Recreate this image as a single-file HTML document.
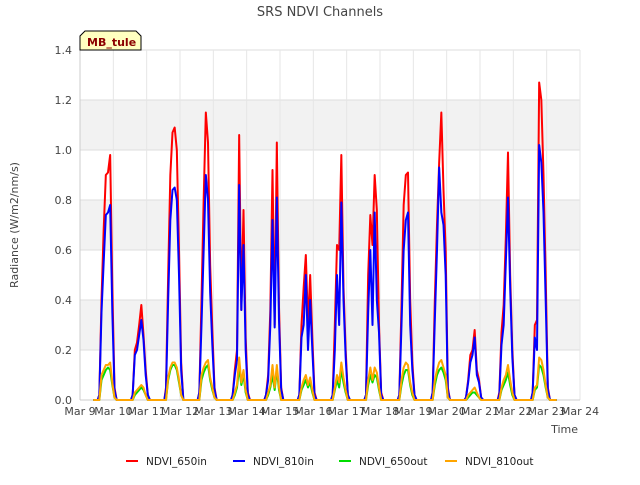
<!DOCTYPE html>
<html><head><meta charset="utf-8"><style>
body{margin:0;background:#fff;font-family:"Liberation Sans","DejaVu Sans",sans-serif;}
svg text{font-family:"DejaVu Sans","Liberation Sans",sans-serif;}
</style></head><body>
<svg id="chart" width="640" height="480" xmlns="http://www.w3.org/2000/svg">
<rect x="0" y="0" width="640" height="480" fill="#fff"/>
<g id="bands"></g><g id="grid"></g>
<line x1="80" y1="50" x2="80" y2="400" stroke="#ccc"/>
<line x1="80" y1="400" x2="580" y2="400" stroke="#ccc"/>
<g id="series"></g><g id="ticks"></g>
<text x="320" y="16" text-anchor="middle" font-size="13" fill="#444">SRS NDVI Channels</text>
<text x="18" y="225" text-anchor="middle" font-size="11" fill="#444" transform="rotate(-90 18 225)">Radiance (W/m2/nm/s)</text>
<text x="578" y="433" text-anchor="end" font-size="11" fill="#444">Time</text>
<g>
<path d="M80,50 L80,36 L85,31 L136,31 L141,36 L141,50 Z" fill="#ffffc0" stroke="#000"/>
<text x="87" y="46" font-size="11" font-weight="bold" fill="#8b0000">MB_tule</text>
</g>
<g id="legend"></g>
</svg>
<script>
const dayStarts=[9,10,11,12,13,14,15,16,17,18,19,20,21,22];
const in650=[[0.02,0.4,0.68,0.9,0.91,0.98,0.45,0.05,0,0],[0.02,0.2,0.23,0.3,0.38,0.26,0.12,0.02,0,0],[0.05,0.5,0.9,1.07,1.09,1.0,0.6,0.15,0,0],[0.03,0.4,0.8,1.15,1.03,0.54,0.28,0.05,0,0],[0.02,0.12,0.2,1.06,0.36,0.76,0.25,0.03,0,0],[0.02,0.1,0.36,0.92,0.3,1.03,0.37,0.05,0,0],[0.02,0.3,0.45,0.58,0.3,0.5,0.25,0.03,0,0],[0.02,0.3,0.62,0.6,0.98,0.45,0.2,0.02,0,0],[0.02,0.5,0.74,0.62,0.9,0.76,0.3,0.03,0,0],[0.02,0.38,0.78,0.9,0.91,0.4,0.15,0.02,0,0],[0.03,0.4,0.7,0.95,1.15,0.84,0.6,0.05,0,0],[0.01,0.08,0.18,0.2,0.28,0.12,0.08,0.01,0,0],[0.03,0.27,0.38,0.65,0.99,0.5,0.2,0.02,0,0],[0.03,0.3,0.32,1.27,1.2,0.9,0.5,0.05,0,0]];
const in810=[[0.02,0.35,0.55,0.74,0.75,0.78,0.35,0.04,0,0],[0.02,0.18,0.2,0.26,0.32,0.24,0.1,0.02,0,0],[0.04,0.4,0.72,0.84,0.85,0.8,0.5,0.12,0,0],[0.03,0.3,0.6,0.9,0.8,0.43,0.22,0.04,0,0],[0.02,0.1,0.16,0.86,0.36,0.62,0.2,0.02,0,0],[0.02,0.08,0.3,0.72,0.29,0.81,0.32,0.04,0,0],[0.02,0.25,0.3,0.5,0.2,0.4,0.2,0.02,0,0],[0.02,0.2,0.5,0.3,0.79,0.4,0.17,0.02,0,0],[0.02,0.35,0.6,0.3,0.75,0.4,0.27,0.02,0,0],[0.02,0.3,0.6,0.72,0.75,0.3,0.12,0.02,0,0],[0.03,0.32,0.6,0.93,0.75,0.7,0.5,0.04,0,0],[0.01,0.07,0.15,0.18,0.25,0.1,0.07,0.01,0,0],[0.02,0.22,0.3,0.55,0.81,0.45,0.17,0.02,0,0],[0.03,0.25,0.2,1.02,0.95,0.75,0.4,0.04,0,0]];
const out650=[[0,0.08,0.1,0.12,0.13,0.12,0.06,0.01,0,0],[0,0.02,0.03,0.04,0.05,0.04,0.02,0,0,0],[0,0.08,0.12,0.14,0.14,0.12,0.07,0.02,0,0],[0,0.08,0.11,0.13,0.14,0.08,0.04,0.01,0,0],[0,0.02,0.05,0.13,0.06,0.1,0.03,0,0,0],[0,0.02,0.05,0.1,0.04,0.12,0.04,0,0,0],[0,0.04,0.06,0.08,0.05,0.07,0.03,0,0,0],[0,0.04,0.08,0.05,0.12,0.07,0.03,0,0,0],[0,0.06,0.1,0.07,0.1,0.09,0.04,0,0,0],[0,0.06,0.1,0.12,0.12,0.06,0.02,0,0,0],[0,0.06,0.1,0.12,0.13,0.11,0.08,0.01,0,0],[0,0.01,0.02,0.03,0.03,0.02,0.01,0,0,0],[0,0.04,0.06,0.08,0.11,0.06,0.02,0,0,0],[0,0.04,0.05,0.14,0.13,0.1,0.05,0.01,0,0]];
const out810=[[0,0.1,0.12,0.14,0.14,0.15,0.07,0.01,0,0],[0,0.03,0.04,0.05,0.06,0.05,0.02,0,0,0],[0,0.09,0.13,0.15,0.15,0.13,0.08,0.02,0,0],[0,0.1,0.13,0.15,0.16,0.09,0.05,0.01,0,0],[0,0.03,0.06,0.17,0.07,0.12,0.04,0,0,0],[0,0.03,0.06,0.14,0.05,0.14,0.05,0,0,0],[0,0.05,0.08,0.1,0.06,0.09,0.04,0,0,0],[0,0.05,0.1,0.07,0.15,0.09,0.04,0,0,0],[0,0.08,0.13,0.08,0.13,0.11,0.05,0,0,0],[0,0.08,0.13,0.15,0.14,0.07,0.03,0,0,0],[0,0.08,0.12,0.15,0.16,0.13,0.1,0.01,0,0],[0,0.02,0.03,0.04,0.05,0.03,0.01,0,0,0],[0,0.05,0.08,0.1,0.14,0.08,0.03,0,0,0],[0,0.05,0.06,0.17,0.16,0.12,0.06,0.01,0,0]];
const xTickLabels=["Mar 9","Mar 10","Mar 11","Mar 12","Mar 13","Mar 14","Mar 15","Mar 16","Mar 17","Mar 18","Mar 19","Mar 20","Mar 21","Mar 22","Mar 23","Mar 24"];
const yTicks=[0,0.2,0.4,0.6,0.8,1.0,1.2,1.4];
const seriesNames=["NDVI_650in","NDVI_810in","NDVI_650out","NDVI_810out"];
const seriesColors=["#ff0000","#0000ff","#00dd00","#ffa500"];
const NS="http://www.w3.org/2000/svg";
const xs=d=>80+(d-9)*500/15, ys=v=>400-v*250;
function mk(tag,attrs,parent){const e=document.createElementNS(NS,tag);for(const k in attrs)e.setAttribute(k,attrs[k]);parent.appendChild(e);return e;}
const bands=document.getElementById('bands'),grid=document.getElementById('grid'),ticks=document.getElementById('ticks');
[[0.2,0.4],[0.6,0.8],[1.0,1.2]].forEach(b=>{const r=mk('rect',{x:80,y:ys(b[1]),width:500,height:ys(b[0])-ys(b[1]),fill:'#f2f2f2'},bands);

});
yTicks.forEach(v=>{const l=mk('line',{x1:80,x2:580,y1:ys(v),y2:ys(v),stroke:'#ddd'},grid);


const t=mk('text',{x:72,y:ys(v)+4,'text-anchor':'end','font-size':11,fill:'#444'},ticks);t.textContent=v.toFixed(1);

});
xTickLabels.forEach((s,i)=>{const l=mk('line',{x1:xs(9+i),x2:xs(9+i),y1:50,y2:400,stroke:'#e6e6e6'},grid);


const t=mk('text',{x:xs(9+i),y:415,'text-anchor':'middle','font-size':11,fill:'#444'},ticks);t.textContent=s;

});
const sg=document.getElementById('series');
[in650,in810,out650,out810].forEach((data,si)=>{let pts=[[xs(9.4),ys(0)]];
dayStarts.forEach((d,di)=>{pts.push([xs(d+0.53),ys(0)]);data[di].forEach((v,i)=>pts.push([xs(d+0.58+i*0.065),ys(v)]));});
pts.push([xs(23.3),ys(0)]);
const p=mk('polyline',{points:pts.map(p=>p.join(',')).join(' '),fill:'none',stroke:seriesColors[si],'stroke-width':2,'stroke-linejoin':'round'},sg);

});
const lg=document.getElementById('legend');const lx=[126,233,339,445];
seriesNames.forEach((n,i)=>{const g=mk('g',{},lg);


mk('line',{x1:lx[i],x2:lx[i]+12,y1:461,y2:461,stroke:seriesColors[i],'stroke-width':2},g);
const t=mk('text',{x:lx[i]+20,y:465,'font-size':10.5,fill:'#222'},g);t.textContent=n;});
</script>
</body></html>
